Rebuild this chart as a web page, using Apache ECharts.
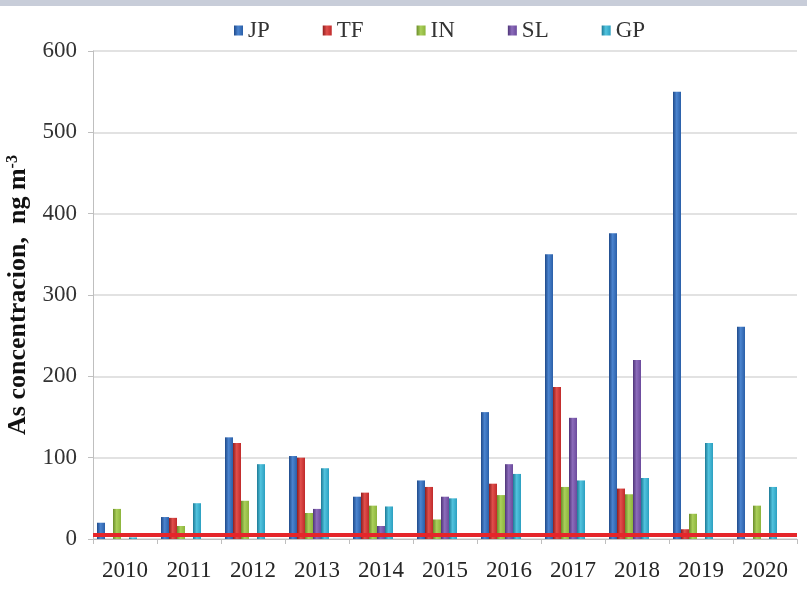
<!DOCTYPE html>
<html>
<head>
<meta charset="utf-8">
<script src="https://cdn.jsdelivr.net/npm/echarts@6/dist/echarts.min.js"></script>
<style>
  html, body { margin: 0; padding: 0; background: #fff; }
  #main { width: 807px; height: 591px; }
</style>
</head>
<body>
<div id="main"></div>
<script>
// values, ng m-3
const years = ['2010', '2011', '2012', '2013', '2014', '2015', '2016', '2017', '2018', '2019', '2020'];
const JP = [20, 27, 125, 102, 52, 72, 156, 350, 376, 550, 261];
const TF = [0, 26, 118, 100, 57, 64, 68, 187, 62, 12, 0];
const IN = [37, 16, 47, 32, 41, 24, 54, 64, 55, 31, 41];
const SL = [0, 0, 0, 37, 16, 52, 92, 149, 220, 0, 0];
const GP = [2, 44, 92, 87, 40, 50, 80, 72, 75, 118, 64];
const yTicks = [0, 100, 200, 300, 400, 500, 600];
const limitValue = 5;

const serif = '"Liberation Serif", "DejaVu Serif", serif';

// cylinder-ish shading for the columns
let shade = (dark, mid, light) => {
    return new echarts.graphic.LinearGradient(0, 0, 1, 0, [
        { offset: 0, color: dark },
        { offset: 0.45, color: light },
        { offset: 1, color: mid }
    ]);
}

let barSeries = (name, data, colors) => {
    return {
        name: name,
        type: 'bar',
        data: data,
        barWidth: 8,
        barGap: '0%',
        itemStyle: { color: shade(colors[0], colors[1], colors[2]) }
    }
}

var chartDom = document.getElementById('main');
var myChart = echarts.init(chartDom, null, { renderer: 'canvas' });

let series = [
    barSeries('JP', JP, ['#1f4a8a', '#2a5fa8', '#4b84cf']),
    barSeries('TF', TF, ['#8f1e1e', '#c02a2a', '#e04f4c']),
    barSeries('IN', IN, ['#6a8c2a', '#8cb43c', '#aacf5a']),
    barSeries('SL', SL, ['#4e3478', '#6b4a9c', '#8c6cbb']),
    barSeries('GP', GP, ['#1d7a96', '#2b9fc0', '#52c3de']),
    // two unused slots, as in the original layout the groups sit left of centre
    { name: '', type: 'bar', data: [], barWidth: 8, barGap: '0%' },
    { name: '', type: 'bar', data: [], barWidth: 8, barGap: '0%' }
];
series[4].markLine = {
    silent: true,
    symbol: ['none', 'none'],
    label: { show: false },
    lineStyle: { color: '#e5252a', width: 4, type: 'solid', opacity: 1 },
    data: [{ yAxis: limitValue }]
};

let option = {
    animation: false,
    backgroundColor: '#fff',
    graphic: [{
        type: 'rect',
        left: 0, top: 0,
        shape: { width: 807, height: 6 },
        style: { fill: '#c8cdd9' }
    }],
    legend: {
        data: ['JP', 'TF', 'IN', 'SL', 'GP'],
        top: 14,
        left: 229,
        itemWidth: 9,
        itemHeight: 10,
        itemGap: 53,
        icon: 'rect',
        textStyle: { fontFamily: serif, fontSize: 23, color: '#333' }
    },
    grid: { left: 93, right: 10, top: 51, bottom: 52, containLabel: false, outerBoundsMode: 'none' },
    xAxis: {
        type: 'category',
        data: years,
        axisLine: { lineStyle: { color: '#bfbfbf', width: 1 } },
        axisTick: { show: true, length: 5, lineStyle: { color: '#bfbfbf' } },
        axisLabel: { fontFamily: serif, fontSize: 23, color: '#262626', margin: 20 }
    },
    yAxis: {
        type: 'value',
        min: yTicks[0],
        max: yTicks[yTicks.length - 1],
        interval: 100,
        name: '{b|As concentracion,  ng m}{s|-3}',
        nameLocation: 'middle',
        nameGap: 58,
        nameRotate: 90,
        nameTextStyle: {
            rich: {
                b: { fontFamily: serif, fontSize: 26, fontWeight: 'bold', color: '#111' },
                s: { fontFamily: serif, fontSize: 16, fontWeight: 'bold', color: '#111', verticalAlign: 'top', padding: [0, 0, 11, 0] }
            }
        },
        axisLine: { show: true, lineStyle: { color: '#bfbfbf', width: 1 } },
        axisTick: { show: true, length: 5, lineStyle: { color: '#bfbfbf' } },
        axisLabel: { fontFamily: serif, fontSize: 23, color: '#333', margin: 16 },
        splitLine: { lineStyle: { color: '#d9d9d9', width: 1.5 } }
    },
    series: series
};

myChart.setOption(option);
window.addEventListener('resize', () => {
    myChart.resize()
});
</script>
</body>
</html>
